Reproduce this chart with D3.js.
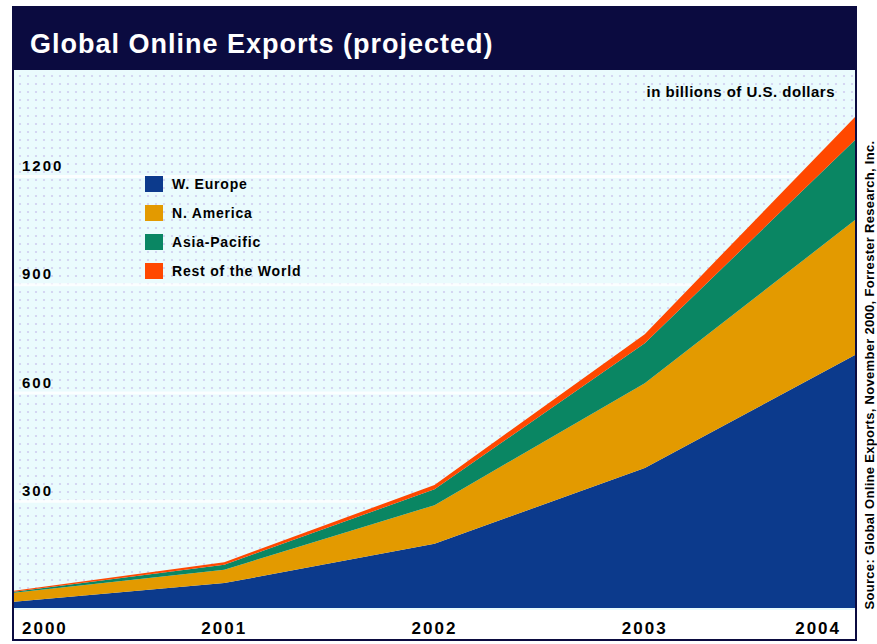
<!DOCTYPE html>
<html>
<head>
<meta charset="utf-8">
<script src="https://cdn.jsdelivr.net/npm/d3@7"></script>
<style>
  html, body { margin: 0; padding: 0; background: #ffffff; }
  svg { display: block; font-family: "Liberation Sans", Arial, sans-serif; }
</style>
</head>
<body>
<svg id="chart" width="877" height="644"></svg>
<script>
// Projected global online exports, billions of U.S. dollars
const years = [2000, 2001, 2002, 2003, 2004];
const regions = ["W. Europe", "N. America", "Asia-Pacific", "Rest of the World"];
const wEurope     = [17, 69, 178, 388, 701];
const nAmerica    = [25, 37, 107, 235, 374];
const asiaPacific = [3, 14, 44, 111, 222];
const restOfWorld = [3, 7, 12, 25, 64];
const yTicks = [300, 600, 900, 1200];
const yearLabels = ["2000", "2001", "2002", "2003", "2004"];
const colors = ["#0c3a8c", "#e39a00", "#0a8663", "#ff4800"];

const svg = d3.select("#chart");
const frame = { left: 12, right: 857, top: 6, bottom: 641 };
const plot = { left: 14, right: 855, top: 70, bottom: 610 };

// Table built from the series arrays for the stack layout
const table = years.map((yr, i) => ({
  year: yr,
  "W. Europe": wEurope[i],
  "N. America": nAmerica[i],
  "Asia-Pacific": asiaPacific[i],
  "Rest of the World": restOfWorld[i]
}));

const x = d3.scaleLinear().domain([2000, 2004]).range([plot.left, plot.right]);
const y = d3.scaleLinear().domain([0, 1200]).range([608, 175]);

// Halftone dot texture for the plot background
const defs = svg.append("defs");
const pat = defs.append("pattern")
  .attr("id", "dots").attr("width", 8).attr("height", 8)
  .attr("patternUnits", "userSpaceOnUse");
pat.append("rect").attr("width", 8).attr("height", 8).attr("fill", "#eafbfd");
pat.append("circle").attr("cx", 4).attr("cy", 4).attr("r", 1.1).attr("fill", "#cfcdf0");

defs.append("clipPath").attr("id", "plotClip")
  .append("rect")
  .attr("x", plot.left).attr("y", plot.top)
  .attr("width", plot.right - plot.left).attr("height", plot.bottom - plot.top);

// Outer navy frame and title bar
svg.append("rect")
  .attr("x", frame.left).attr("y", frame.top)
  .attr("width", frame.right - frame.left).attr("height", frame.bottom - frame.top)
  .attr("fill", "#0b0b40");

// Plot background
svg.append("rect")
  .attr("x", plot.left).attr("y", plot.top)
  .attr("width", plot.right - plot.left).attr("height", plot.bottom - plot.top)
  .attr("fill", "url(#dots)");

// Axis label strip
svg.append("rect")
  .attr("x", plot.left).attr("y", plot.bottom)
  .attr("width", plot.right - plot.left).attr("height", frame.bottom - 2 - plot.bottom)
  .attr("fill", "#ffffff");

// Faint white guide bands at the tick values
svg.append("g").selectAll("rect.grid")
  .data(yTicks)
  .join("rect")
  .attr("x", plot.left).attr("width", plot.right - plot.left)
  .attr("y", d => y(d)).attr("height", 3)
  .attr("fill", "#ffffff").attr("opacity", 0.8);

// Stacked areas
const stack = d3.stack().keys(regions);
const series = stack(table);
const area = d3.area()
  .x(d => x(d.data.year))
  .y0(d => y(d[0]))
  .y1(d => y(d[1]));

svg.append("g").attr("clip-path", "url(#plotClip)")
  .selectAll("path")
  .data(series)
  .join("path")
  .attr("d", area)
  .attr("fill", (d, i) => colors[i]);

// Title
svg.append("text")
  .attr("x", 30).attr("y", 53)
  .attr("fill", "#ffffff")
  .attr("font-size", 27).attr("font-weight", "bold")
  .attr("letter-spacing", 1)
  .text("Global Online Exports (projected)");

// Unit note
svg.append("text")
  .attr("x", 835).attr("y", 97)
  .attr("text-anchor", "end")
  .attr("font-size", 15).attr("font-weight", "bold")
  .attr("letter-spacing", 0.5)
  .attr("fill", "#000000")
  .text("in billions of U.S. dollars");

// Y tick labels
svg.append("g").selectAll("text")
  .data(yTicks)
  .join("text")
  .attr("x", 22).attr("y", d => y(d) - 4)
  .attr("font-size", 15).attr("font-weight", "bold")
  .attr("letter-spacing", 2)
  .attr("fill", "#000000")
  .text(d => d);

// X tick labels
svg.append("g").selectAll("text")
  .data(years)
  .join("text")
  .attr("x", (d, i) => i === 0 ? x(d) + 8 : (i === years.length - 1 ? x(d) - 14 : x(d)))
  .attr("y", 634)
  .attr("text-anchor", (d, i) => i === 0 ? "start" : (i === years.length - 1 ? "end" : "middle"))
  .attr("font-size", 17).attr("font-weight", "bold")
  .attr("letter-spacing", 2)
  .attr("fill", "#000000")
  .text((d, i) => yearLabels[i]);

// Legend
const legend = svg.append("g").attr("transform", "translate(145,176)");
const item = legend.selectAll("g")
  .data(regions)
  .join("g")
  .attr("transform", (d, i) => `translate(0,${i * 29})`);
item.append("rect")
  .attr("width", 18).attr("height", 16)
  .attr("fill", (d, i) => colors[i]);
item.append("text")
  .attr("x", 27).attr("y", 13)
  .attr("font-size", 14).attr("font-weight", "bold")
  .attr("letter-spacing", 0.8)
  .attr("fill", "#000000")
  .text(d => d);

// Source note, rotated along the right edge
svg.append("text")
  .attr("transform", "translate(874,375) rotate(-90)")
  .attr("text-anchor", "middle")
  .attr("font-size", 13).attr("font-weight", "bold")
  .attr("letter-spacing", 0.3)
  .attr("fill", "#000000")
  .text("Source: Global Online Exports, November 2000, Forrester Research, Inc.");
</script>
</body>
</html>
